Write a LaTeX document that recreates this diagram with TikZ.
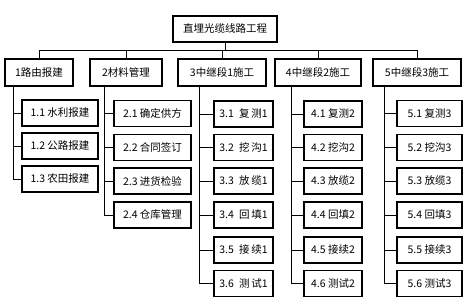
\documentclass[tikz,border=0pt]{standalone}
\usepackage{fontspec}
\newfontfamily\cjk{Noto Sans CJK SC}
\usepackage{tikz}
\usetikzlibrary{positioning,calc}

\begin{document}
\begin{tikzpicture}[x=1pt,y=-1pt,
  box/.style={draw,line width=1.1pt,minimum height=26pt,inner sep=0pt,font=\cjk\fontsize{10.5}{12}\selectfont},
  ln/.style={line width=0.8pt}]
  \useasboundingbox (0,0) rectangle (471,304);
  % top
  \node[box,minimum width=104pt] (root) at (225,29) {直埋光缆线路工程};
  % first level
  \node[box,minimum width=68pt,minimum height=27pt] (L1) at (39,72.5) {1路由报建};
  \node[box,minimum width=72pt,minimum height=27pt] (L2) at (126,72.5) {2材料管理};
  \node[box,minimum width=88pt,minimum height=27pt] (L3) at (222,72.5) {3中继段1施工};
  \node[box,minimum width=86pt,minimum height=27pt] (L4) at (318,72.5) {4中继段2施工};
  \node[box,minimum width=88pt,minimum height=27pt] (L5) at (417,72.5) {5中继段3施工};
  \foreach \i in {1,...,5}
    \draw[ln] (root.south) -- ++(0,8) -| (L\i.north);
  % second level
  \node[box,minimum width=76pt] (c1-1) at (60,113) {1.1 水利报建};
  \node[box,minimum width=76pt] (c1-2) at (60,146) {1.2 公路报建};
  \node[box,minimum width=76pt] (c1-3) at (60,179) {1.3 农田报建};
  \node[box,minimum width=77pt] (c2-1) at (152.5,113.5) {2.1 确定供方};
  \node[box,minimum width=77pt] (c2-2) at (152.5,147.5) {2.2 合同签订};
  \node[box,minimum width=77pt] (c2-3) at (152.5,181) {2.3 进货检验};
  \node[box,minimum width=77pt] (c2-4) at (152.5,215) {2.4 仓库管理};
  \node[box,minimum width=59pt] (c3-1) at (243.5,114) {3.1\enspace 复\,测1};
  \node[box,minimum width=59pt] (c3-2) at (243.5,147.5) {3.2\enspace 挖\,沟1};
  \node[box,minimum width=59pt] (c3-3) at (243.5,181) {3.3\enspace 放\,缆1};
  \node[box,minimum width=59pt] (c3-4) at (243.5,215) {3.4\enspace 回\,填1};
  \node[box,minimum width=59pt] (c3-5) at (243.5,250) {3.5\enspace 接\,续1};
  \node[box,minimum width=59pt] (c3-6) at (243.5,283.5) {3.6\enspace 测\,试1};
  \node[box,minimum width=58pt] (c4-1) at (333,114) {4.1 复测2};
  \node[box,minimum width=58pt] (c4-2) at (333,147.5) {4.2 挖沟2};
  \node[box,minimum width=58pt] (c4-3) at (333,181) {4.3 放缆2};
  \node[box,minimum width=58pt] (c4-4) at (333,215) {4.4 回填2};
  \node[box,minimum width=58pt] (c4-5) at (333,250) {4.5 接续2};
  \node[box,minimum width=58pt] (c4-6) at (333,283.5) {4.6 测试2};
  \node[box,minimum width=65pt] (c5-1) at (429.5,113.5) {5.1 复测3};
  \node[box,minimum width=65pt] (c5-2) at (429.5,147.5) {5.2 挖沟3};
  \node[box,minimum width=65pt] (c5-3) at (429.5,181) {5.3 放缆3};
  \node[box,minimum width=65pt] (c5-4) at (429.5,215) {5.4 回填3};
  \node[box,minimum width=65pt] (c5-5) at (429.5,250) {5.5 接续3};
  \node[box,minimum width=65pt] (c5-6) at (429.5,283.5) {5.6 测试3};
  % links
  \foreach \c/\o/\n in {1/9/3,2/15/4,3/22/6,4/17/6,5/12/6}
    \foreach \j in {1,...,\n}
      \draw[ln] (L\c.south west) ++(\o,0) |- (c\c-\j.west);
\end{tikzpicture}
\end{document}
